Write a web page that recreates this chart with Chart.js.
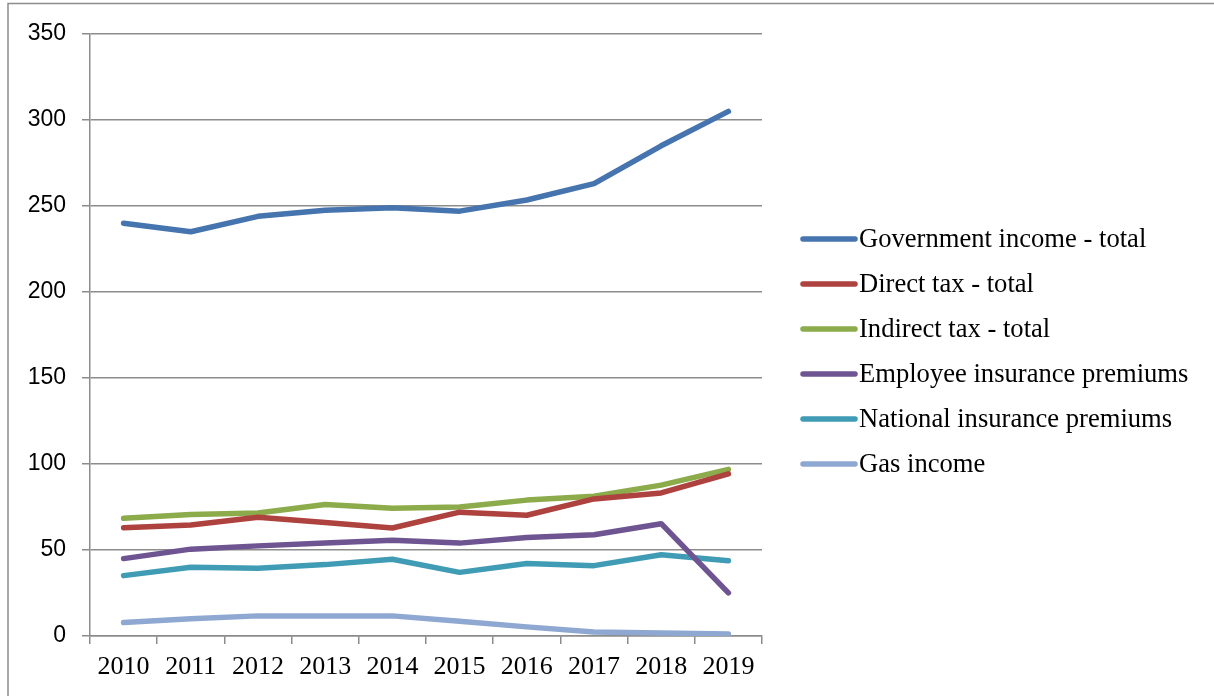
<!DOCTYPE html>
<html lang="en">
<head>
    <meta charset="UTF-8">
    <title>Government income</title>
    <script src="https://cdn.jsdelivr.net/npm/chart.js"></script>
    <style>
        body { margin: 0; background: #fff; }
        #wrap { width: 1214px; height: 696px; }
    </style>
</head>
<body>
    <div id="wrap">
        <canvas id="mainChart" width="1214" height="696"></canvas>
    </div>
    <script>
        const years = ['2010', '2011', '2012', '2013', '2014', '2015', '2016', '2017', '2018', '2019'];
        const yTicks = [0, 50, 100, 150, 200, 250, 300, 350];

        const govIncome = [240, 235, 244, 247.5, 249, 247, 253.5, 263, 285, 305];
        const directTax = [63, 64.5, 69, 66, 62.8, 72, 70.2, 79.7, 83.2, 94.3];
        const indirectTax = [68.4, 70.6, 71.5, 76.4, 74.3, 75, 79, 81.3, 87.7, 96.9];
        const employeePremiums = [45, 50.5, 52.4, 54, 55.6, 54, 57.3, 58.9, 65.3, 25.1];
        const nationalPremiums = [35.1, 40, 39.4, 41.5, 44.6, 37, 42.1, 40.9, 47.2, 43.7];
        const gasIncome = [7.8, 10, 11.7, 11.7, 11.7, 8.6, 5.3, 2.3, 1.8, 1.2];

        const seriesNames = [
            'Government income - total',
            'Direct tax - total',
            'Indirect tax - total',
            'Employee insurance premiums',
            'National insurance premiums',
            'Gas income'
        ];
        const seriesData = [govIncome, directTax, indirectTax, employeePremiums, nationalPremiums, gasIncome];
        const seriesColors = ['#4674AE', '#AE423E', '#8CAB4A', '#6E5490', '#3F9CB4', '#8FA8D1'];

        const gridColor = '#8c8c8c';

        // frame lines + legend drawn by hand to match the original layout
        const framePlugin = {
            id: 'frame',
            beforeDraw(chart) {
                const ctx = chart.ctx;
                ctx.save();
                ctx.strokeStyle = '#8c8c8c';
                ctx.lineWidth = 1.5;
                ctx.beginPath();
                ctx.moveTo(8, 696);
                ctx.lineTo(8, 3.5);
                ctx.lineTo(1214, 3.5);
                ctx.stroke();
                ctx.restore();
            },
            afterDraw(chart) {
                const ctx = chart.ctx;
                ctx.save();
                ctx.font = '26.6px "Liberation Serif", "Times New Roman", serif';
                ctx.textBaseline = 'middle';
                ctx.fillStyle = '#000';
                chart.data.datasets.forEach((ds, i) => {
                    const y = 239 + i * 45;
                    ctx.strokeStyle = ds.borderColor;
                    ctx.lineWidth = 5.5;
                    ctx.lineCap = 'round';
                    ctx.beginPath();
                    ctx.moveTo(803, y);
                    ctx.lineTo(855, y);
                    ctx.stroke();
                    ctx.fillText(ds.label, 859, y + 1);
                });
                ctx.restore();
            }
        };

        const ctx = document.getElementById('mainChart').getContext('2d');
        const chart = new Chart(ctx, {
            type: 'line',
            data: {
                labels: years,
                datasets: seriesNames.map((name, i) => ({
                    label: name,
                    data: seriesData[i],
                    borderColor: seriesColors[i],
                    backgroundColor: seriesColors[i],
                    borderWidth: 5.5,
                    pointRadius: 0,
                    tension: 0,
                    borderCapStyle: 'round',
                    borderJoinStyle: 'round'
                }))
            },
            options: {
                responsive: false,
                animation: false,
                layout: {
                    padding: { left: 8, top: 34, right: 452, bottom: 0 }
                },
                plugins: {
                    legend: { display: false },
                    tooltip: { enabled: false }
                },
                scales: {
                    x: {
                        offset: true,
                        afterFit(scale) { scale.height = 60; },
                        grid: {
                            offset: true,
                            drawOnChartArea: false,
                            drawTicks: true,
                            tickLength: 8,
                            color: gridColor,
                            lineWidth: 1.5
                        },
                        border: { color: gridColor, width: 1.5 },
                        ticks: {
                            color: '#000',
                            padding: 8,
                            maxRotation: 0,
                            font: { family: '"Liberation Serif", "Times New Roman", serif', size: 26 }
                        }
                    },
                    y: {
                        min: 0,
                        max: 350,
                        afterFit(scale) { scale.width = 82; },
                        afterBuildTicks(scale) {
                            scale.ticks = yTicks.map(v => ({ value: v }));
                        },
                        grid: {
                            color: gridColor,
                            lineWidth: 1.5,
                            tickLength: 8
                        },
                        border: { color: gridColor, width: 1.5 },
                        ticks: {
                            color: '#000',
                            padding: 16,
                            font: { family: '"Liberation Sans", Arial, sans-serif', size: 23 }
                        }
                    }
                }
            },
            plugins: [framePlugin]
        });
    </script>
</body>
</html>
